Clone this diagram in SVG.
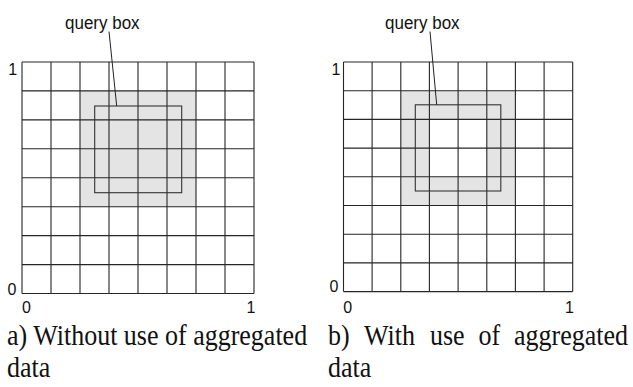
<svg xmlns="http://www.w3.org/2000/svg" width="633" height="387" viewBox="0 0 633 387">
  <style>
    .grid { fill: none; stroke: #262626; stroke-width: 1.1; }
    .qbox { fill: none; stroke: #333; stroke-width: 1.1; }
    .shade { fill: #e4e4e4; }
    .lead { fill: none; stroke: #222; stroke-width: 1; }
    .sans { font-family: "Liberation Sans", Arial, sans-serif; font-size: 16px; fill: #111; }
    .qlabel { font-family: "Liberation Sans", Arial, sans-serif; font-size: 17px; fill: #111; }
    .cap { font-family: "Liberation Serif", "Times New Roman", serif; font-size: 26px; fill: #111; }
  </style>

  <!-- Panel a: grid without aggregated data -->
  <g id="panel-a">
    <rect class="shade" x="80" y="90.9" width="116" height="115.8"/>
    <path class="grid" d="M22 62V293.5M51 62V293.5M80 62V293.5M109 62V293.5M138 62V293.5M167 62V293.5M196 62V293.5M225 62V293.5M254 62V293.5
      M22 62H254M22 90.9H254M22 119.9H254M22 148.8H254M22 177.8H254M22 206.7H254M22 235.6H254M22 264.6H254M22 293.5H254"/>
    <rect id="qbox-a" class="qbox" x="94.7" y="106" width="87" height="86.7"/>
    <text class="qlabel" transform="translate(65 28.5) scale(1 1.12)">query box</text>
    <text class="sans" x="8.3" y="75">1</text>
    <text class="sans" x="7.6" y="294.8">0</text>
    <text class="sans" x="22" y="313">0</text>
    <text class="sans" x="246.6" y="313">1</text>
    <text class="cap" transform="translate(7 345) scale(1 1.12)">a) Without use of aggregated</text>
    <text class="cap" transform="translate(7 377) scale(1 1.12)">data</text>
  </g>

  <!-- Panel b: grid with aggregated data -->
  <g id="panel-b">
    <path class="shade" fill-rule="evenodd" d="M400.8 90.7H515.4V205.5H400.8Z M429.4 119.4V176.8H486.8V119.4Z"/>
    <path class="grid" d="M343.5 62V291.6M372.1 62V291.6M400.8 62V291.6M429.4 62V291.6M458.1 62V291.6M486.8 62V291.6M515.4 62V291.6M544.1 62V291.6M572.7 62V291.6
      M343.5 62H572.7M343.5 90.7H572.7M343.5 119.4H572.7M343.5 148.1H572.7M343.5 176.8H572.7M343.5 205.5H572.7M343.5 234.2H572.7M343.5 262.9H572.7M343.5 291.6H572.7"/>
    <rect id="qbox-b" class="qbox" x="415.3" y="104.8" width="85.5" height="86.2"/>
    <text class="qlabel" transform="translate(385 28.5) scale(1 1.12)">query box</text>
    <text class="sans" x="331.5" y="75">1</text>
    <text class="sans" x="329.5" y="291.8">0</text>
    <text class="sans" x="343.3" y="313">0</text>
    <text class="sans" x="565" y="313">1</text>
    <text class="cap" transform="translate(0 345) scale(1 1.12)"><tspan x="328">b)</tspan><tspan x="364">With</tspan><tspan x="430">use</tspan><tspan x="478.5">of</tspan><tspan x="514">aggregated</tspan></text>
    <text class="cap" transform="translate(328 377) scale(1 1.12)">data</text>
  </g>

  <!-- Leader lines from labels to query boxes -->
  <g id="connectors">
    <line class="lead" x1="109" y1="31.5" x2="116.7" y2="106"/>
    <line class="lead" x1="430" y1="31.5" x2="436.7" y2="104.8"/>
  </g>
</svg>
